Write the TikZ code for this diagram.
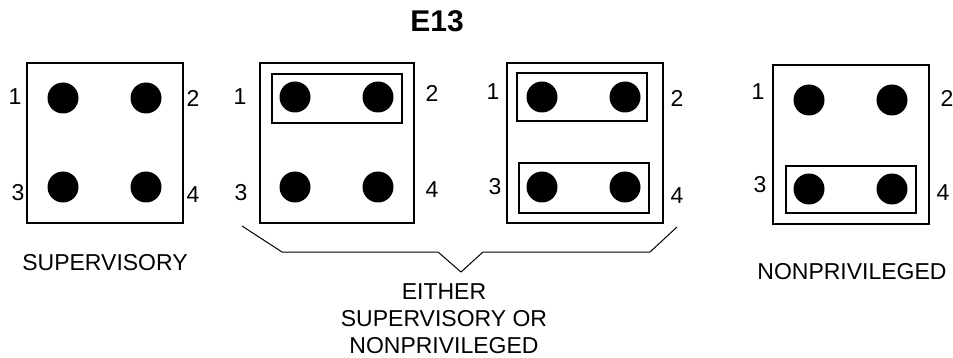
\documentclass[tikz,border=0pt]{standalone}
\usepackage{fontspec}
\setmainfont{Liberation Sans}
\usepackage{tikz}
\usetikzlibrary{positioning}

\begin{document}
\begin{tikzpicture}[x=1pt,y=-1pt,
    box/.style={draw,line width=2pt,minimum width=156pt,minimum height=160pt,inner sep=0pt},
    jumper/.style={draw,line width=2pt,minimum width=130pt,minimum height=48pt,inner sep=0pt},
    pin/.style={circle,fill=black,minimum size=31pt,inner sep=0pt},
    num/.style={inner sep=0pt,font=\fontsize{23}{27}\selectfont},
    caption/.style={inner sep=0pt,align=center,font=\fontsize{23}{27}\selectfont}]
    \useasboundingbox (0,0) rectangle (953,358);
    \node[inner sep=0pt,font=\fontsize{30}{34}\selectfont\bfseries] (title) at (437,21) {E13};

    % supervisory
    \node[box] (b1) at (105,143) {};
    \node[pin] (p11) at (63,98) {};
    \node[pin] (p12) at (146,98) {};
    \node[pin] (p13) at (63,187) {};
    \node[pin] (p14) at (146,187) {};
    \node[num] (n11) at (15,97) {1};
    \node[num] (n12) at (193,98) {2};
    \node[num] (n13) at (18,193) {3};
    \node[num] (n14) at (193,195) {4};
    \node[caption] (sup) at (105,263) {SUPERVISORY};

    % either, jumper on 1-2
    \node[box,minimum width=154pt] (b2) at (337,143) {};
    \node[jumper,minimum height=49pt] (j21) at (337,98.5) {};
    \node[pin] (p21) at (295,97) {};
    \node[pin] (p22) at (378,97) {};
    \node[pin] (p23) at (295,187) {};
    \node[pin] (p24) at (378,187) {};
    \node[num] (n21) at (240,97) {1};
    \node[num] (n22) at (432,93) {2};
    \node[num] (n23) at (241,193) {3};
    \node[num] (n24) at (432,190) {4};

    % either, jumpers on 1-2 and 3-4
    \node[box] (b3) at (585,143) {};
    \node[jumper] (j31) at (582,97) {};
    \node[jumper,minimum height=50pt] (j32) at (584,188) {};
    \node[pin] (p31) at (542,97) {};
    \node[pin] (p32) at (625,97) {};
    \node[pin] (p33) at (542,187) {};
    \node[pin] (p34) at (625,187) {};
    \node[num] (n31) at (493,92) {1};
    \node[num] (n32) at (677,98) {2};
    \node[num] (n33) at (495,187) {3};
    \node[num] (n34) at (677,196) {4};

    % nonprivileged
    \node[box,minimum height=159pt] (b4) at (851,144.5) {};
    \node[jumper,minimum height=47pt] (j41) at (851,189.5) {};
    \node[pin] (p41) at (809,100) {};
    \node[pin] (p42) at (892,100) {};
    \node[pin] (p43) at (809,189) {};
    \node[pin] (p44) at (892,189) {};
    \node[num] (n41) at (758,92) {1};
    \node[num] (n42) at (947,98) {2};
    \node[num] (n43) at (760,185) {3};
    \node[num] (n44) at (943,193) {4};
    \node[caption] (nonpriv) at (852,272) {NONPRIVILEGED};

    % brace under the middle two
    \coordinate (bl) at (242,226);
    \coordinate (bl2) at (282,252);
    \coordinate (bm1) at (438,252);
    \coordinate (tip) at (461,272);
    \coordinate (bm2) at (483,252);
    \coordinate (br2) at (650,252);
    \coordinate (br) at (677,227);
    \draw[line width=1pt] (bl) -- (bl2) -- (bm1) -- (tip) -- (bm2) -- (br2) -- (br);
    \node[caption,anchor=north] (either) at (444,283) {EITHER\\SUPERVISORY OR\\NONPRIVILEGED};
\end{tikzpicture}
\end{document}
